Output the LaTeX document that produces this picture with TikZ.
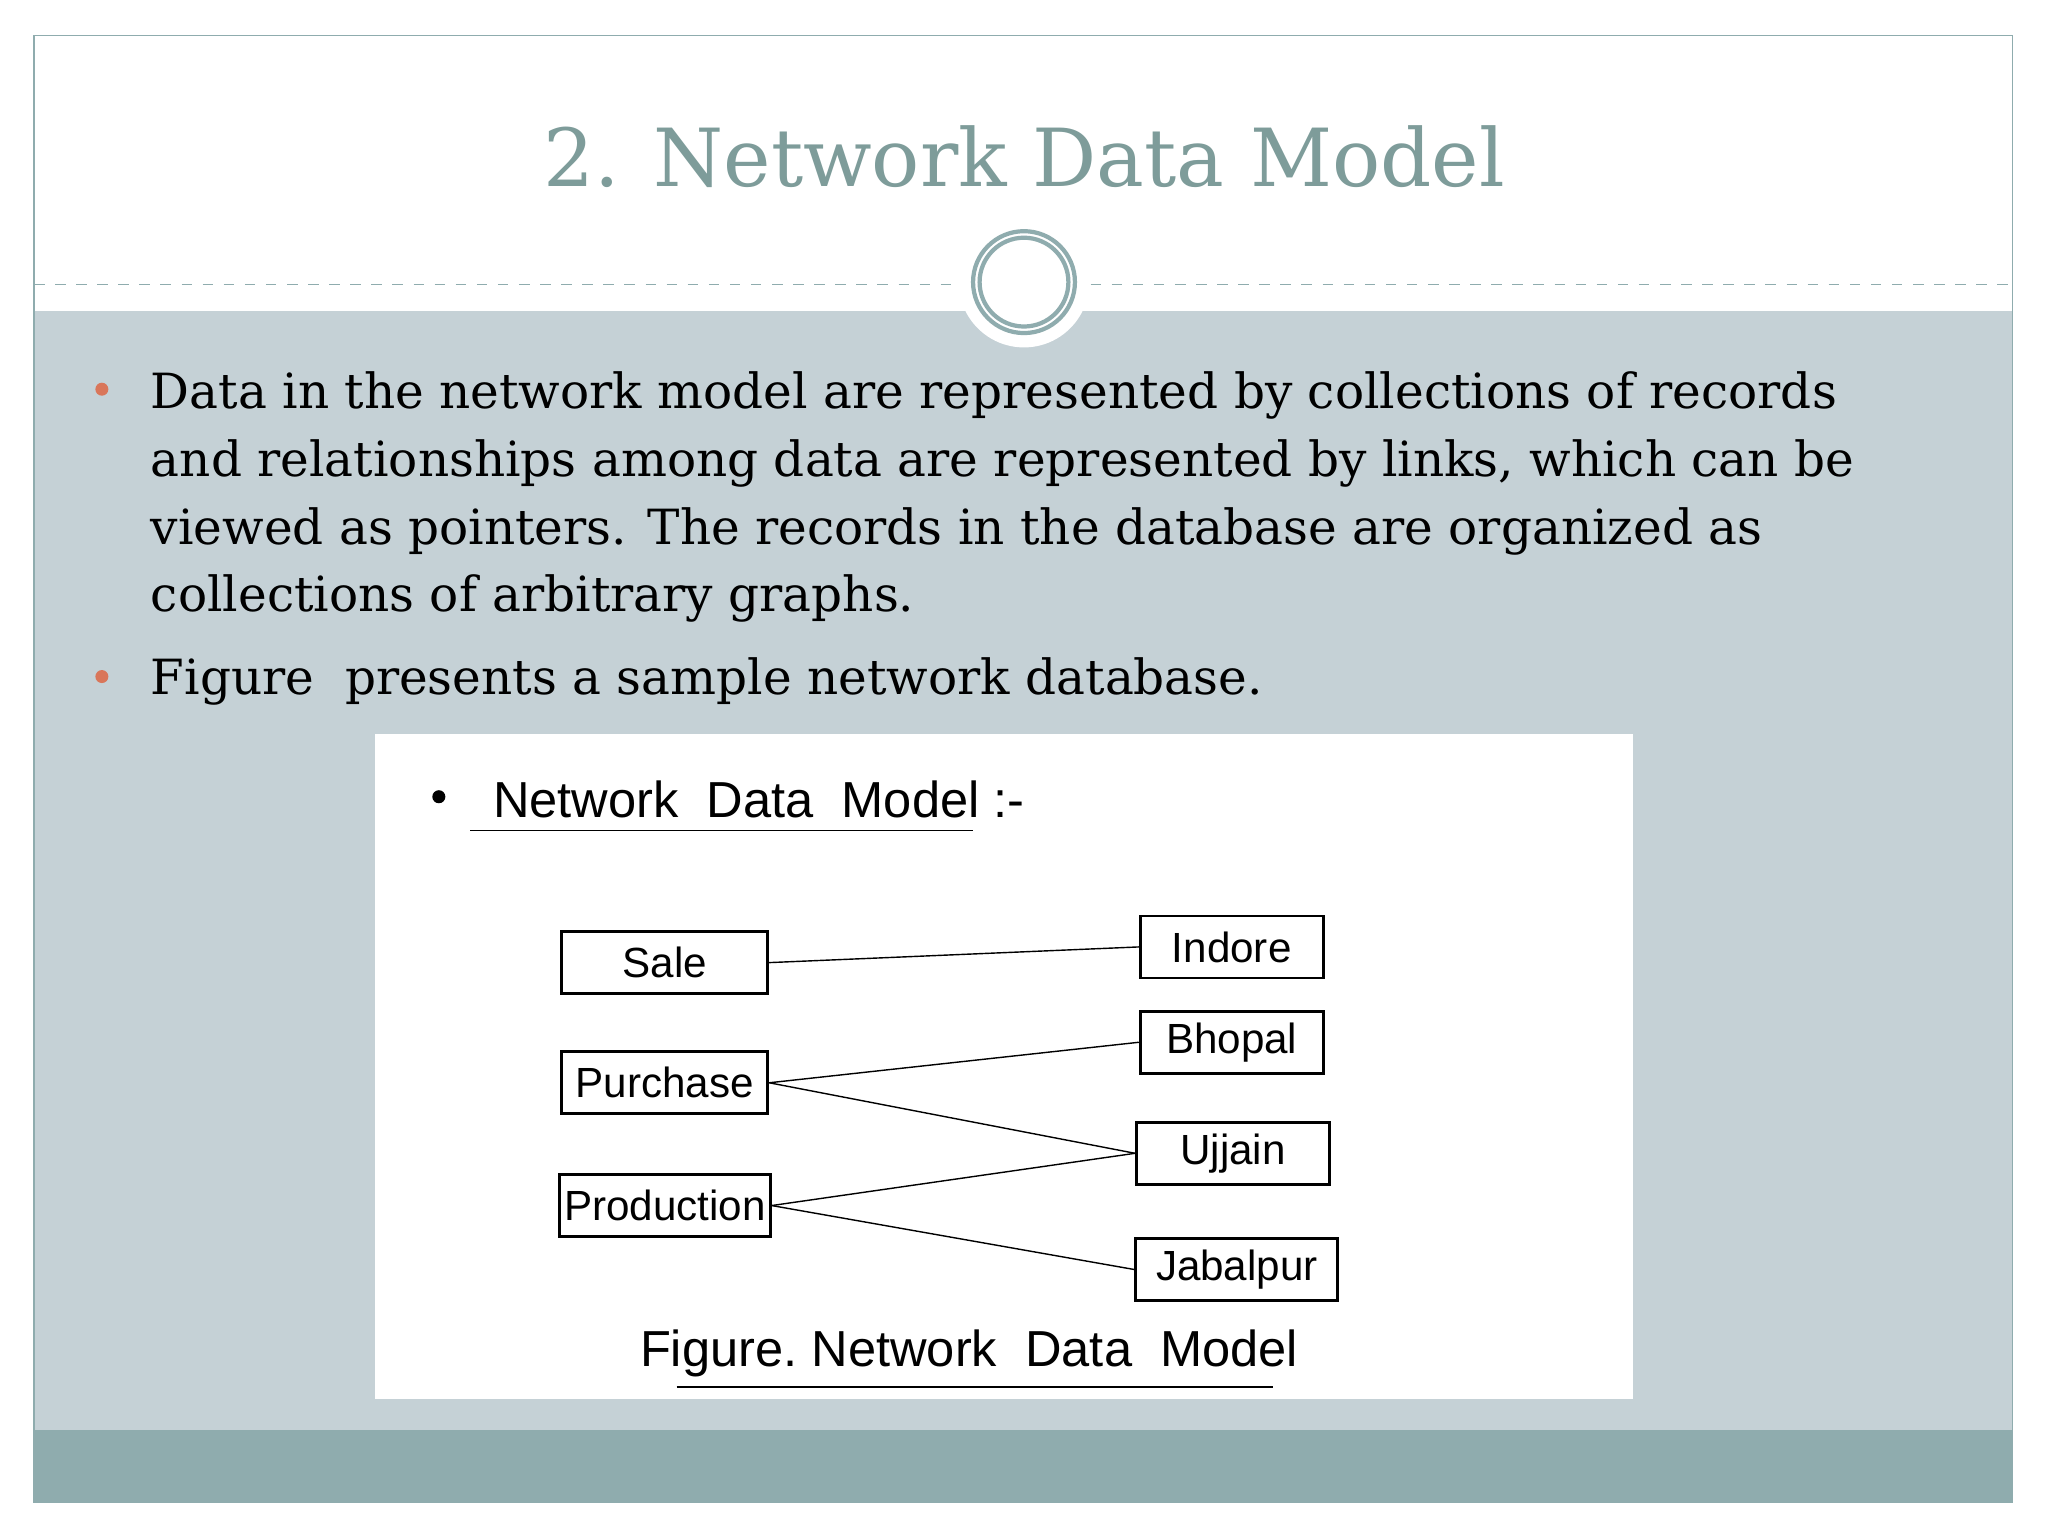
\documentclass[tikz,border=0pt]{standalone}
\usepackage{fontspec}
\setmainfont{DejaVu Serif}
\newfontfamily\handfont{Liberation Sans}
\usetikzlibrary{positioning}
\definecolor{bandgray}{HTML}{C5D1D6}
\definecolor{bargray}{HTML}{8FACAE}
\definecolor{titlegray}{HTML}{7E9C9A}
\definecolor{bulletred}{HTML}{D9765A}
\tikzset{
  rec/.style={draw,thick,minimum height=0.62cm,inner sep=0pt,font=\handfont\large},
  link/.style={thin},
  bul/.style={circle,fill=bulletred,inner sep=0pt,minimum size=0.13cm},
  para/.style={anchor=north west,align=left,
    font=\fontsize{13.8}{19.3}\selectfont,inner sep=0pt}
}
\begin{document}
\begin{tikzpicture}[x=0.01306cm,y=-0.01306cm]
  \useasboundingbox (0,0) rectangle (1568,1176);
  % slide background
  \fill[bandgray] (26,238) rectangle (1541,1095);
  \fill[bargray] (26,1095) rectangle (1541,1150);
  \draw[bargray] (26,27) rectangle (1541,1150);
  \draw[bargray,dashed,thin] (26,218) -- (735,218);
  \draw[bargray,dashed,thin] (835,218) -- (1541,218);
  \fill[white] (784,216) circle (50);
  \draw[bargray,line width=1.2pt] (784,216) circle (39);
  \draw[bargray,line width=1.2pt] (784,216) circle (34);
  \node[titlegray,font=\fontsize{22.8}{28}\selectfont] (title) at (784,120) {2. Network Data Model};
  % text
  \node[bul] (b1) at (78,298) {};
  \node[para] (p1) at (115,284) {Data in the network model are represented by collections of records\\
    and relationships among data are represented by links, which can be\\
    viewed as pointers. The records in the database are organized as\\
    collections of arbitrary graphs.};
  \node[bul] (b2) at (78,518) {};
  \node[para] (p2) at (115,503) {Figure\ \ presents a sample network database.};
  % figure
  \fill[white] (287,562) rectangle (1250,1071);
  \fill (336,610) circle (5);
  \node[anchor=west,font=\handfont\Large] (head) at (368,612) {Network\ \ Data\ \ Model :-};
  \draw (360,636) -- (745,636);
  \node[rec,minimum width=2.06cm] (sale) at (509,737) {Sale};
  \node[rec,minimum width=2.06cm] (purchase) at (509,829) {Purchase};
  \node[rec,minimum width=2.11cm] (production) at (509,923) {Production};
  \node[rec,minimum width=1.83cm] (indore) at (943,725) {Indore};
  \node[rec,minimum width=1.83cm] (bhopal) at (943,798) {Bhopal};
  \node[rec,minimum width=1.93cm] (ujjain) at (944,883) {Ujjain};
  \node[rec,minimum width=2.02cm] (jabalpur) at (947,972) {Jabalpur};
  \draw[link] (sale.east) -- (indore.west);
  \draw[link] (purchase.east) -- (bhopal.west);
  \draw[link] (purchase.east) -- (ujjain.west);
  \draw[link] (production.east) -- (ujjain.west);
  \draw[link] (production.east) -- (jabalpur.west);
  \node[font=\handfont\Large] (caption) at (742,1036) {Figure.\ Network\ \ Data\ \ Model};
  \draw (518,1062) -- (975,1062);
\end{tikzpicture}
\end{document}
